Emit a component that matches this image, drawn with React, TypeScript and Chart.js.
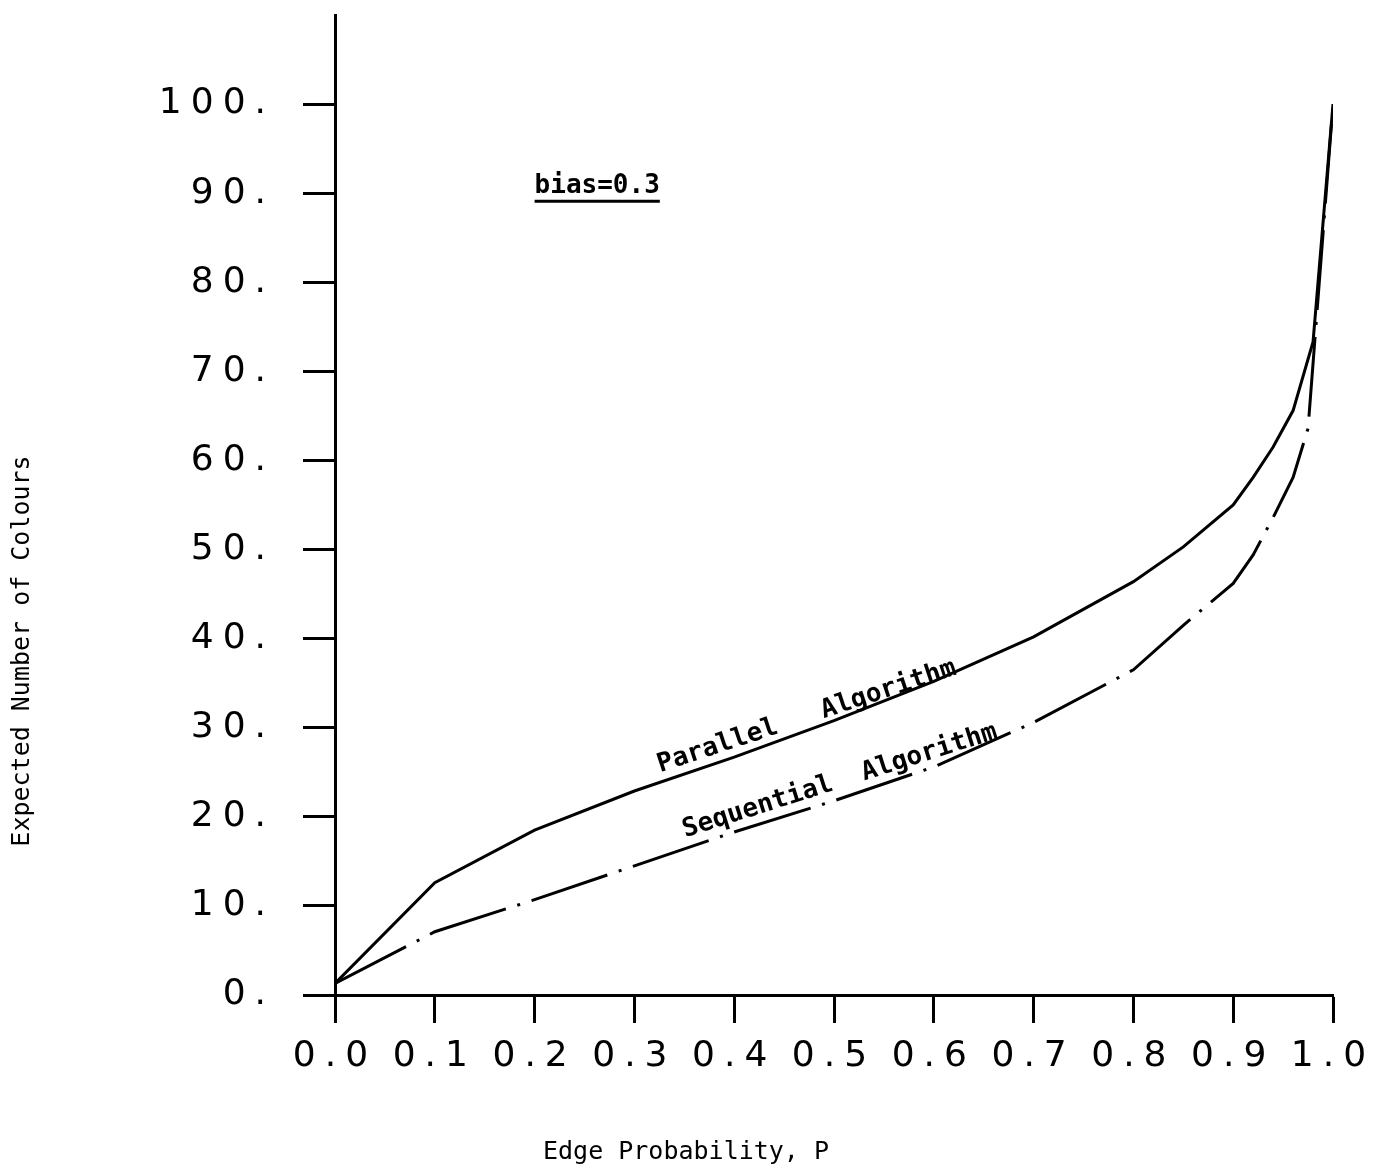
import React, { useEffect, useRef } from "react";
import { Chart, registerables } from "chart.js";

Chart.register(...registerables);

// ---- data ----
const X_TICKS = [0, 0.1, 0.2, 0.3, 0.4, 0.5, 0.6, 0.7, 0.8, 0.9, 1.0];
const Y_TICKS = [0, 10, 20, 30, 40, 50, 60, 70, 80, 90, 100];

const P_PARALLEL = [0, 0.1, 0.2, 0.3, 0.4, 0.5, 0.6, 0.7, 0.8, 0.85, 0.9, 0.92, 0.94, 0.96, 0.98, 1.0];
const PARALLEL = [1.3, 12.6, 18.5, 22.9, 26.7, 30.8, 35.2, 40.2, 46.4, 50.3, 55.0, 58.1, 61.5, 65.6, 73.3, 100];

const P_SEQUENTIAL = [0, 0.1, 0.2, 0.3, 0.4, 0.5, 0.6, 0.7, 0.8, 0.85, 0.9, 0.92, 0.94, 0.96, 0.975, 1.0];
const SEQUENTIAL = [1.3, 7.1, 10.7, 14.5, 18.3, 21.8, 25.6, 30.6, 36.5, 41.5, 46.2, 49.4, 53.6, 58.1, 63.6, 100];

const X_TITLE = "Edge Probability, P";
const Y_TITLE = "Expected Number of Colours";
const BIAS_LABEL = "bias=0.3";
const PARALLEL_LABEL = "Parallel   Algorithm";
const SEQUENTIAL_LABEL = "Sequential  Algorithm";

const MONO_BOLD = 'bold 26px "DejaVu Sans Mono", monospace';
const MONO = '25px "DejaVu Sans Mono", monospace';

const annotate = {
  id: "annotate",
  beforeDraw(chart: any) {
    chart.ctx.letterSpacing = "9px";
  },
  afterDraw(chart: any) {
    const { ctx, scales } = chart;
    const x = scales.x;
    const y = scales.y;
    ctx.save();
    ctx.letterSpacing = "0px";
    ctx.fillStyle = "#000";
    ctx.strokeStyle = "#000";
    ctx.font = MONO_BOLD;

    // bias label with underline
    const bx = x.getPixelForValue(0.2);
    const by = y.getPixelForValue(90);
    ctx.textAlign = "left";
    ctx.textBaseline = "alphabetic";
    ctx.fillText(BIAS_LABEL, bx, by);
    const w = ctx.measureText(BIAS_LABEL).width;
    ctx.lineWidth = 3;
    ctx.beginPath();
    ctx.moveTo(bx, by + 8);
    ctx.lineTo(bx + w, by + 8);
    ctx.stroke();

    // curve labels
    const drawRot = (txt: string, px: number, vy: number, deg: number) => {
      ctx.save();
      ctx.translate(x.getPixelForValue(px), y.getPixelForValue(vy));
      ctx.rotate((deg * Math.PI) / 180);
      ctx.textAlign = "left";
      ctx.textBaseline = "alphabetic";
      ctx.fillText(txt, 0, 0);
      ctx.restore();
    };
    drawRot(PARALLEL_LABEL, 0.326, 25.0, -18.3);
    drawRot(SEQUENTIAL_LABEL, 0.351, 17.7, -17.6);

    // axis titles
    const ca = chart.chartArea;
    ctx.font = MONO;
    ctx.textAlign = "center";
    ctx.textBaseline = "middle";
    ctx.fillText(X_TITLE, ca.left + 351, ca.bottom + 157);
    ctx.save();
    ctx.translate(22, ca.top + 636);
    ctx.rotate(-Math.PI / 2);
    ctx.fillText(Y_TITLE, 0, 0);
    ctx.restore();

    ctx.restore();
  },
};

export default function App() {
  const ref = useRef<HTMLCanvasElement | null>(null);

  useEffect(() => {
    document.body.style.margin = "0";
    if (!ref.current) return;
    const tickFont = { family: '"DejaVu Sans", sans-serif', size: 36, weight: "normal" as const };
    const chart = new Chart(ref.current, {
      type: "line",
      data: {
        datasets: [
          {
            label: "Parallel Algorithm",
            data: P_PARALLEL.map((p, i) => ({ x: p, y: PARALLEL[i] })),
            borderColor: "#000",
            borderWidth: 3,
            pointRadius: 0,
            tension: 0,
            fill: false,
          },
          {
            label: "Sequential Algorithm",
            data: P_SEQUENTIAL.map((p, i) => ({ x: p, y: SEQUENTIAL[i] })),
            borderColor: "#000",
            borderWidth: 3,
            borderDash: [80, 12, 3, 12],
            pointRadius: 0,
            tension: 0,
            fill: false,
          },
        ],
      },
      options: {
        animation: false,
        responsive: false,
        layout: { padding: { top: 15, right: 61, left: 0, bottom: 0 } },
        plugins: { legend: { display: false }, tooltip: { enabled: false }, title: { display: false } },
        scales: {
          x: {
            type: "linear",
            min: 0,
            max: 1,
            afterBuildTicks: (s: any) => {
              s.ticks = X_TICKS.map((v) => ({ value: v }));
            },
            afterFit: (s: any) => {
              s.height = 177;
              s.paddingLeft = 0;
              s.paddingRight = 0;
            },
            border: { display: true, color: "#000", width: 3 },
            grid: {
              display: true,
              drawOnChartArea: false,
              drawTicks: true,
              tickLength: 28,
              tickColor: "#000",
              tickWidth: 3,
              color: "#000",
            },
            ticks: {
              autoSkip: false,
              maxRotation: 0,
              minRotation: 0,
              padding: 12,
              color: "#000",
              font: tickFont,
              callback: (v: any) => Number(v).toFixed(1),
            },
          },
          y: {
            type: "linear",
            min: 0,
            max: 110,
            afterBuildTicks: (s: any) => {
              s.ticks = Y_TICKS.map((v) => ({ value: v }));
            },
            afterFit: (s: any) => {
              s.width = 335;
              s.paddingTop = 0;
              s.paddingBottom = 0;
            },
            border: { display: true, color: "#000", width: 3 },
            grid: {
              display: true,
              drawOnChartArea: false,
              drawTicks: true,
              tickLength: 32,
              tickColor: "#000",
              tickWidth: 3,
              color: "#000",
            },
            ticks: {
              padding: 28,
              color: "#000",
              font: tickFont,
              callback: (v: any) => `${v}.`,
            },
          },
        },
      },
      plugins: [annotate],
    });
    return () => chart.destroy();
  }, []);

  return (
    <div style={{ width: 1394, height: 1172 }}>
      <canvas ref={ref} width={1394} height={1172} style={{ display: "block" }} />
    </div>
  );
}
